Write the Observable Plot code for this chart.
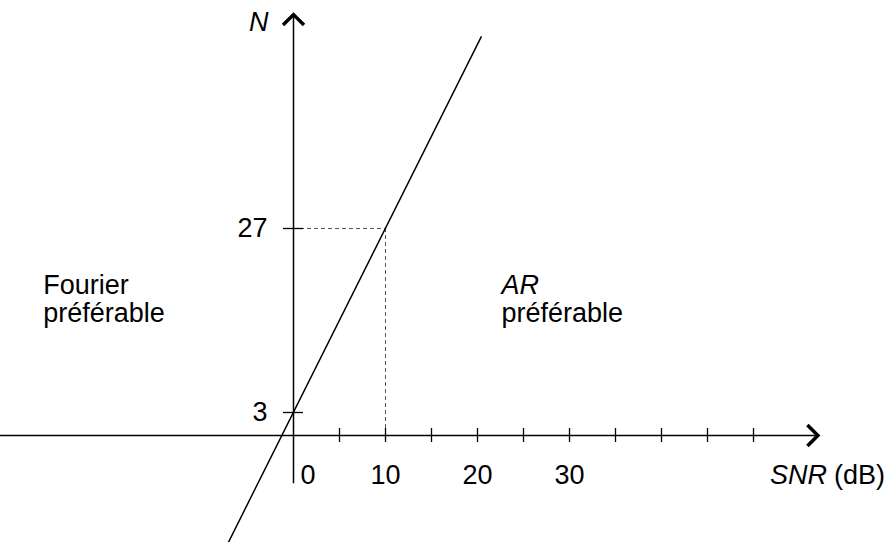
<!DOCTYPE html>
<html>
<head>
<meta charset="utf-8">
<script src="https://cdn.jsdelivr.net/npm/d3@7"></script>
<script src="https://cdn.jsdelivr.net/npm/@observablehq/plot@0.6"></script>
<style>
  html, body { margin: 0; padding: 0; background: #fff; }
  #chart svg { display: block; }
</style>
</head>
<body>
<div id="chart"></div>
<script>
// Ticks along the SNR axis (dB) and the ones that carry a label
const snrTicks = [5, 10, 15, 20, 25, 30, 35, 40, 45, 50];
const snrLabels = [0, 10, 20, 30];
// Labelled values on the N axis
const nTicks = [3, 27];
// Boundary line N = 3 + 2.4·SNR, given by its two visible ends
const boundarySnr = [-7.1, 20.4];
const boundaryN = [-14, 52];
// Reading taken at SNR = 10 dB
const markSnr = [10];
const markN = [27];
// Extent of the two drawn axes, in data units
const snrAxis = [-32, 57];
const nAxis = [-6.3, 54.9];

const boundary = boundarySnr.map((s, i) => ({snr: s, n: boundaryN[i]}));

const font = "'Liberation Sans', Arial, Helvetica, sans-serif";
const fs = 27;

// Open chevron arrowheads; the dot sits on the tip
const chevronUp = {
  draw(ctx, size) {
    const l = Math.sqrt(size / Math.PI);
    ctx.moveTo(-l, l);
    ctx.lineTo(0, 0);
    ctx.lineTo(l, l);
  }
};
const chevronRight = {
  draw(ctx, size) {
    const l = Math.sqrt(size / Math.PI);
    ctx.moveTo(-l, -l);
    ctx.lineTo(0, 0);
    ctx.lineTo(-l, l);
  }
};

const textStyle = {fontFamily: font, fontSize: fs, fill: "black", lineAnchor: "bottom"};
const head = {r: 10.5, fill: "none", stroke: "black", strokeWidth: 3.5, strokeLinejoin: "miter", strokeLinecap: "butt"};

const chart = Plot.plot({
  width: 890,
  height: 542,
  margin: 0,
  style: {background: "#fff", fontFamily: font},
  x: {domain: [0, 10], range: [293, 385], axis: null},
  y: {domain: [0, 27], range: [435, 228], axis: null},
  marks: [
    // dashed reading lines
    Plot.ruleY(markN, {x1: 0, x2: markSnr[0], stroke: "#555", strokeWidth: 1, strokeDasharray: "4,3"}),
    Plot.ruleX(markSnr, {y1: 0, y2: markN[0], stroke: "#555", strokeWidth: 1, strokeDasharray: "4,3"}),
    // axes
    Plot.ruleY([0], {x1: snrAxis[0], x2: snrAxis[1], stroke: "black", strokeWidth: 1.5}),
    Plot.ruleX([0], {y1: nAxis[0], y2: nAxis[1], stroke: "black", strokeWidth: 1.5}),
    Plot.dot([0], {x: snrAxis[1], y: 0, symbol: chevronRight, ...head}),
    Plot.dot([0], {x: 0, y: nAxis[1], symbol: chevronUp, ...head}),
    // ticks
    Plot.ruleX(snrTicks, {x: d => d, y1: 0, y2: 0, insetTop: -7, insetBottom: -7, stroke: "black", strokeWidth: 1.3}),
    Plot.ruleY(nTicks, {y: d => d, x1: 0, x2: 0, insetLeft: -10, insetRight: -10, stroke: "black", strokeWidth: 1.3}),
    // boundary between the two regions
    Plot.line(boundary, {x: "snr", y: "n", stroke: "black", strokeWidth: 1.5}),
    // tick labels
    Plot.text(snrLabels.filter(d => d === 0), {x: d => d, y: 0, text: d => String(d), dx: 7, dy: 48, textAnchor: "start", ...textStyle}),
    Plot.text(snrLabels.filter(d => d !== 0), {x: d => d, y: 0, text: d => String(d), dy: 48, textAnchor: "middle", ...textStyle}),
    Plot.text(nTicks, {x: 0, y: d => d, text: d => String(d), dx: -26, dy: 8.5, textAnchor: "end", ...textStyle}),
    // axis titles
    Plot.text(["N"], {x: 0, y: nAxis[1], text: d => d, dx: -25, dy: 16, textAnchor: "end", fontStyle: "italic", ...textStyle}),
    Plot.text(["SNR"], {x: snrAxis[1], y: 0, text: d => d, dx: 9, dy: 48, textAnchor: "end", fontStyle: "italic", ...textStyle}),
    Plot.text(["(dB)"], {x: snrAxis[1], y: 0, text: d => d, dx: 16, dy: 48, textAnchor: "start", ...textStyle}),
    // region labels
    Plot.text(["Fourier"], {x: -27.2, y: 14.8, text: d => d, dy: -28, textAnchor: "start", ...textStyle}),
    Plot.text(["préférable"], {x: -27.2, y: 14.8, text: d => d, textAnchor: "start", ...textStyle}),
    Plot.text(["AR"], {x: 22.6, y: 14.8, text: d => d, dy: -28, textAnchor: "start", fontStyle: "italic", ...textStyle}),
    Plot.text(["préférable"], {x: 22.6, y: 14.8, text: d => d, textAnchor: "start", ...textStyle})
  ]
});

document.getElementById("chart").appendChild(chart);
</script>
</body>
</html>
